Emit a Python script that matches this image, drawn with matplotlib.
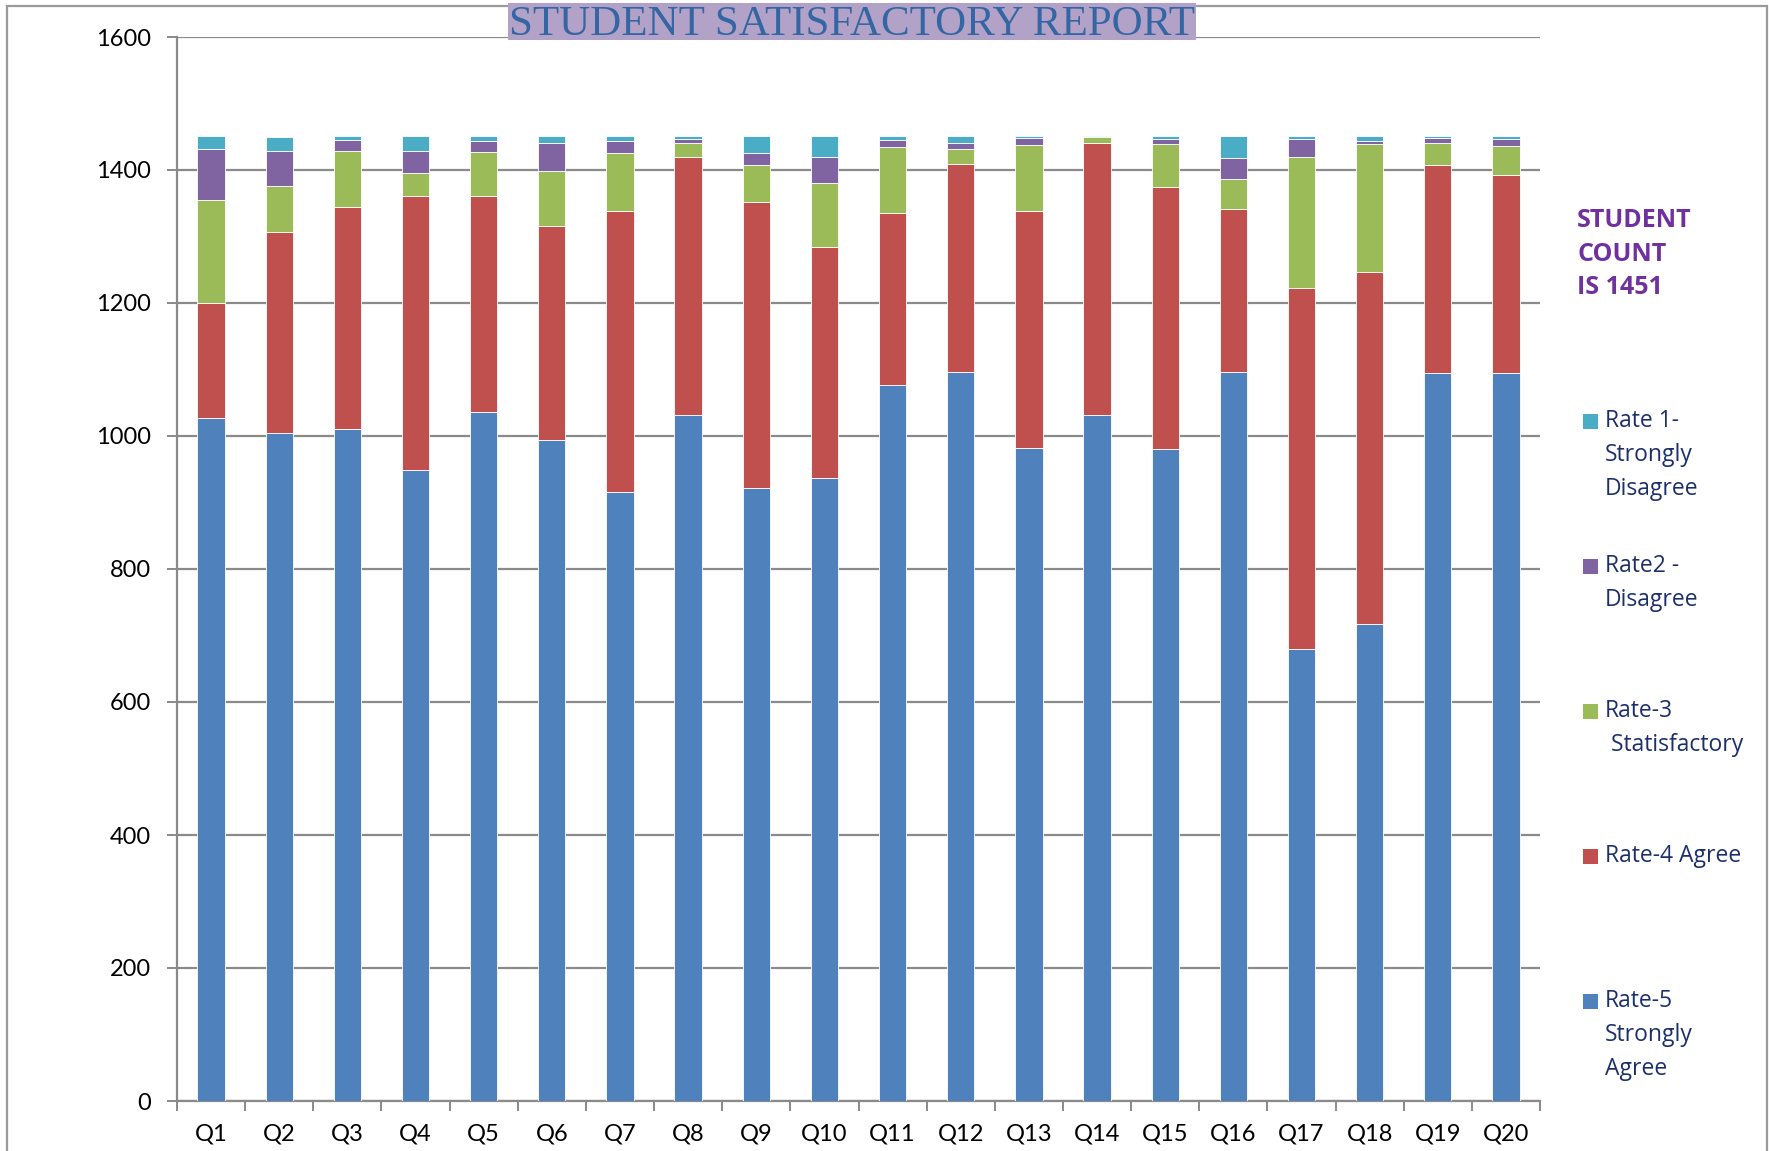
import matplotlib
matplotlib.use("Agg")
import matplotlib.pyplot as plt
from matplotlib.patches import Rectangle
import numpy as np

categories = [f"Q{i}" for i in range(1, 21)]
rate5 = [1027, 1005, 1011, 949, 1036, 994, 916, 1031, 922, 937,
         1077, 1096, 982, 1031, 980, 1096, 679, 717, 1094, 1095]
rate4 = [173, 302, 333, 412, 325, 322, 423, 388, 430, 347,
         259, 313, 357, 410, 394, 246, 543, 529, 313, 298]
rate3 = [155, 69, 84, 35, 66, 83, 87, 21, 55, 96,
         98, 22, 98, 8, 65, 45, 197, 193, 33, 43]
rate2 = [76, 52, 17, 32, 17, 42, 17, 6, 19, 39,
         11, 10, 11, 1, 8, 31, 28, 5, 8, 10]
rate1 = [20, 21, 6, 23, 7, 10, 8, 5, 25, 32,
         6, 10, 3, 1, 4, 33, 4, 7, 3, 5]

series = [
    ("Rate-5\nStrongly\nAgree", rate5, "#4f81bd"),
    ("Rate-4 Agree", rate4, "#c0504d"),
    ("Rate-3\n Statisfactory", rate3, "#9bbb59"),
    ("Rate2 -\nDisagree", rate2, "#8064a2"),
    ("Rate 1-\nStrongly\nDisagree", rate1, "#4bacc6"),
]
yticks = [0, 200, 400, 600, 800, 1000, 1200, 1400, 1600]
title = "STUDENT SATISFACTORY REPORT"
note = "STUDENT\nCOUNT\nIS 1451"

W, H = 1769, 1151
fig = plt.figure(figsize=(W / 100, H / 100), dpi=100)
ax = fig.add_axes([177 / W, 1 - 1101 / H, (1540 - 177) / W, (1101 - 37) / H])

x = np.arange(len(categories))
bottom = np.zeros(len(categories))
bars = []
for label, vals, col in series:
    b = ax.bar(x, vals, width=0.40, bottom=bottom, color=col,
               edgecolor="#ffffff", linewidth=0.6, zorder=3)
    bars.append(b)
    bottom = bottom + np.array(vals)

ax.set_xlim(-0.5, len(categories) - 0.5)
ax.set_ylim(0, 1600)
ax.set_yticks(yticks)
ax.set_yticklabels([str(v) for v in yticks])
ax.yaxis.grid(True, color="#8a8a8a", linewidth=1.6, zorder=0)
ax.set_axisbelow(True)

gray = "#8a8a8a"
for s in ["top", "right"]:
    ax.spines[s].set_visible(False)
for s in ["left", "bottom"]:
    ax.spines[s].set_color(gray)
    ax.spines[s].set_linewidth(1.6)

tick_family = ["Lato", "DejaVu Sans"]
ax.tick_params(axis="y", direction="out", length=7, width=1.4, color=gray,
               pad=12, labelsize=17)
for t in ax.get_yticklabels():
    t.set_fontfamily(tick_family)

ax.set_xticks(np.arange(-0.5, len(categories) + 0.5, 1.0))
ax.set_xticklabels([])
ax.set_xticks(x, minor=True)
ax.set_xticklabels(categories, minor=True)
ax.tick_params(axis="x", which="major", direction="out", length=7, width=1.4, color=gray)
ax.tick_params(axis="x", which="minor", length=0, pad=16, labelsize=17)
for t in ax.get_xticklabels(minor=True):
    t.set_fontfamily(tick_family)

# figure border
fig.patches.append(Rectangle((7 / W, -0.01), (1767 - 7) / W, 1.01 - 6 / H,
                             transform=fig.transFigure, fill=False,
                             edgecolor="#9a9a9a", linewidth=1.6, zorder=1))
# title
fig.patches.append(Rectangle((508 / W, 1 - 40 / H), (1196 - 508) / W, 37 / H,
                             transform=fig.transFigure, facecolor="#b3a2c7",
                             edgecolor="none", zorder=2))
fig.text((508 + 1196) / 2 / W, 1 - 25 / H, title, ha="center", va="center",
         family=["Liberation Serif", "DejaVu Serif"], size=31, color="#3466a4",
         zorder=4)

# note
fig.text(1577 / W, 1 - 208 / H, note, ha="left", va="top",
         family=["Open Sans", "DejaVu Sans"], weight="bold", size=18,
         color="#7030a0", linespacing=1.45)

# legend (manual, top-to-bottom in reverse stacking order)
legend_items = list(zip(series[::-1], bars[::-1]))
y0 = 421
step = 145
for i, ((label, vals, col), b) in enumerate(legend_items):
    yc = y0 + i * step
    fig.patches.append(Rectangle((1583 / W, 1 - (yc + 8) / H), 15 / W, 15 / H,
                                 transform=fig.transFigure,
                                 facecolor=b.patches[0].get_facecolor(),
                                 edgecolor="none", zorder=3))
    fig.text(1605 / W, 1 - (yc - 12) / H, label, ha="left", va="top",
             family=["Open Sans", "DejaVu Sans"], size=16.5, color="#1c2f6b",
             linespacing=1.55)

fig.savefig("out.png", dpi=100)
